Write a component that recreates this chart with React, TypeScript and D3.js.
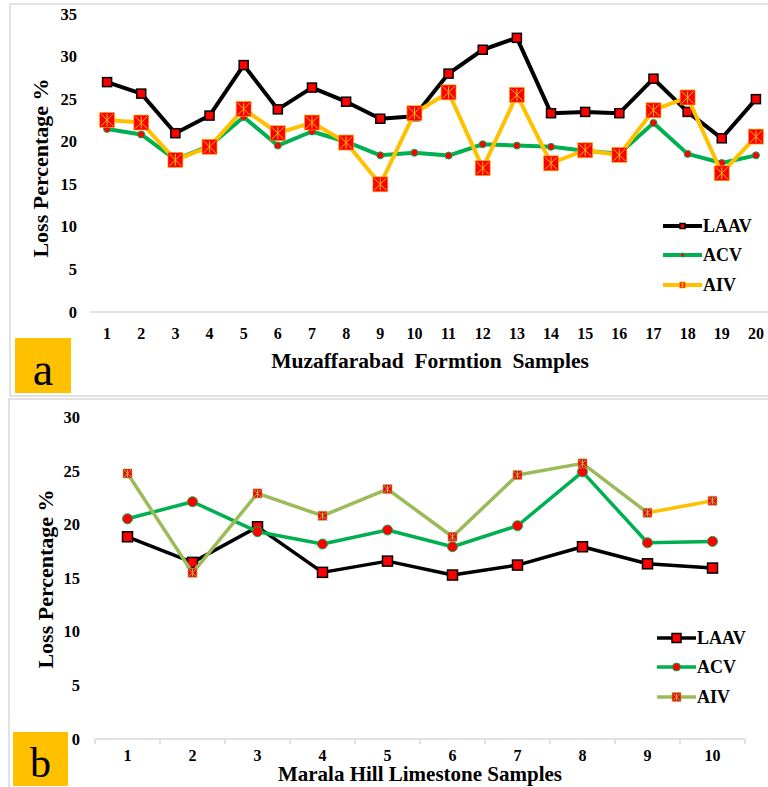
import React from 'react';
import * as d3 from 'd3';

// ---------- data ----------
const samplesA = ['1','2','3','4','5','6','7','8','9','10','11','12','13','14','15','16','17','18','19','20'];
const laavA = [27.0, 25.65, 21.0, 23.07, 29.0, 23.8, 26.36, 24.7, 22.7, 23.0, 28.0, 30.8, 32.2, 23.35, 23.5, 23.35, 27.4, 23.5, 20.4, 25.0];
const acvA = [21.5, 20.85, 17.9, 19.5, 22.9, 19.55, 21.2, 20.0, 18.4, 18.7, 18.37, 19.7, 19.55, 19.4, 18.95, 18.6, 22.2, 18.57, 17.5, 18.4];
const aivA = [22.56, 22.25, 17.86, 19.4, 23.85, 21.0, 22.25, 19.9, 15.0, 23.35, 25.8, 16.9, 25.5, 17.47, 19.0, 18.45, 23.7, 25.2, 16.3, 20.6];
const ticksA = [0, 5, 10, 15, 20, 25, 30, 35];

const samplesB = ['1','2','3','4','5','6','7','8','9','10'];
const laavB = [18.87, 16.48, 19.8, 15.55, 16.6, 15.3, 16.23, 17.94, 16.35, 15.95];
const acvB = [20.55, 22.14, 19.34, 18.19, 19.5, 17.94, 19.9, 24.93, 18.31, 18.44];
const aivB = [24.78, 15.51, 22.92, 20.83, 23.32, 18.87, 24.63, 25.72, 21.11, 22.23];
const ticksB = [0, 5, 10, 15, 20, 25, 30];

const seriesNames = ['LAAV', 'ACV', 'AIV'];

// ---------- style ----------
const FONT = '"Liberation Serif", "Times New Roman", serif';
const BLACK = '#000000';
const GREEN = '#00B050';
const YELLOW = '#FFC000';
const OLIVE = '#9BBB59';
const RED = '#FF0000';
const GRID = '#D9D9D9';

type MarkerKind = 'square' | 'circle' | 'star';

function Marker({ kind, x, y, size, color }: { kind: MarkerKind; x: number; y: number; size: number; color: string }) {
  if (kind === 'circle') {
    return <circle cx={x} cy={y} r={size / 2} fill={RED} stroke={color} strokeWidth={1} />;
  }
  if (kind === 'square') {
    return <rect x={x - size / 2} y={y - size / 2} width={size} height={size} fill={RED} stroke={BLACK} strokeWidth={1.5} />;
  }
  const h = size / 2;
  const k = h * 0.8;
  return (
    <g>
      <rect x={x - h} y={y - h} width={size} height={size} fill={RED} stroke={color} strokeOpacity={0.6} strokeWidth={1} />
      <line x1={x - k} y1={y - k} x2={x + k} y2={y + k} stroke={color} strokeWidth={1} />
      <line x1={x - k} y1={y + k} x2={x + k} y2={y - k} stroke={color} strokeWidth={1} />
      <line x1={x} y1={y - k} x2={x} y2={y + k} stroke={color} strokeWidth={1} />
    </g>
  );
}

interface PanelProps {
  cats: string[];
  series: { values: number[]; color: string; kind: MarkerKind; size: number; legendSize: number; tailColor?: string }[];
  ticks: number[];
  maxY: number;
  frame: [number, number, number, number];
  xRange: [number, number];
  axisEnd: number;
  yRange: [number, number];
  tickLabelX: number;
  xLabelY: number;
  tickMarks: boolean;
  title: string;
  titleX: number;
  titleY: number;
  titleSize: number;
  yTitleX: number;
  yTitleY: number;
  box: [number, number, number, number];
  letter: string;
  letterY: number;
  letterSize: number;
  legendX: [number, number];
  legendY: number[];
  lineWidth: number;
}

function Panel(p: PanelProps) {
  const x = d3.scaleBand<string>().domain(p.cats).range(p.xRange).padding(0);
  const y = d3.scaleLinear().domain([0, p.maxY]).range(p.yRange);
  const cx = (c: string) => (x(c) as number) + x.bandwidth() / 2;
  const line = d3.line<number>().x((_, i) => cx(p.cats[i])).y((d) => y(d));
  const [fx, fy, fw, fh] = p.frame;
  const [bx, by, bw, bh] = p.box;
  return (
    <g>
      <rect x={fx} y={fy} width={fw} height={fh} fill="#fff" stroke={GRID} strokeWidth={1.5} />
      {p.ticks.map((t) => (
        <text key={t} x={p.tickLabelX} y={y(t)} textAnchor="end" dominantBaseline="central" fontFamily={FONT} fontWeight="bold" fontSize={16.5} fill="#000">{t}</text>
      ))}
      <line x1={p.xRange[0]} x2={p.axisEnd} y1={y(0)} y2={y(0)} stroke={GRID} strokeWidth={1.5} />
      {p.tickMarks && p.cats.concat(['__end']).map((c, i) => {
        const xx = p.xRange[0] + i * x.step();
        return <line key={'tm' + i} x1={xx} x2={xx} y1={y(0)} y2={y(0) + 5} stroke={GRID} strokeWidth={1.5} />;
      })}
      {p.cats.map((c) => (
        <text key={'xl' + c} x={cx(c)} y={p.xLabelY} textAnchor="middle" dominantBaseline="central" fontFamily={FONT} fontWeight="bold" fontSize={16} fill="#000">{c}</text>
      ))}
      {p.series.map((s, si) => {
        const starColor = s.kind === 'star' ? (s.tailColor ? s.color : YELLOW) : s.color;
        const n = s.values.length;
        return (
          <g key={'l' + si}>
            {s.tailColor ? (
              <>
                <path d={line(s.values.slice(0, n - 1)) || ''} fill="none" stroke={s.color} strokeWidth={p.lineWidth} strokeLinejoin="round" />
                <path d={d3.line<number>().x((_, i) => cx(p.cats[n - 2 + i])).y((d) => y(d))(s.values.slice(n - 2)) || ''} fill="none" stroke={s.tailColor} strokeWidth={p.lineWidth} strokeLinejoin="round" />
              </>
            ) : (
              <path d={line(s.values) || ''} fill="none" stroke={s.color} strokeWidth={p.lineWidth} strokeLinejoin="round" />
            )}
            {s.values.map((v, i) => <Marker key={i} kind={s.kind} x={cx(p.cats[i])} y={y(v)} size={s.size} color={starColor} />)}
          </g>
        );
      })}
      <text x={p.titleX} y={p.titleY} textAnchor="middle" fontFamily={FONT} fontWeight="bold" fontSize={p.titleSize} fill="#000" style={{ whiteSpace: 'pre' }}>{p.title}</text>
      <text transform={`translate(${p.yTitleX},${p.yTitleY}) rotate(-90)`} textAnchor="middle" dominantBaseline="central" fontFamily={FONT} fontWeight="bold" fontSize={22} fill="#000">Loss Percentage %</text>
      {p.series.map((s, si) => (
        <g key={'lg' + si}>
          <line x1={p.legendX[0]} x2={p.legendX[1]} y1={p.legendY[si]} y2={p.legendY[si]} stroke={s.color} strokeWidth={p.lineWidth} />
          <Marker kind={s.kind} x={(p.legendX[0] + p.legendX[1]) / 2} y={p.legendY[si]} size={s.legendSize} color={s.kind === 'star' ? (s.tailColor ? s.color : YELLOW) : s.color} />
          <text x={p.legendX[1] + 1} y={p.legendY[si]} dominantBaseline="central" fontFamily={FONT} fontWeight="bold" fontSize={18} fill="#000">{seriesNames[si]}</text>
        </g>
      ))}
      <rect x={bx} y={by} width={bw} height={bh} fill={YELLOW} />
      <text x={bx + bw / 2} y={p.letterY} textAnchor="middle" fontFamily={FONT} fontSize={p.letterSize} fill="#000">{p.letter}</text>
    </g>
  );
}

export default function App() {
  return (
    <svg width={768} height={787} style={{ position: 'absolute', left: 0, top: 0, background: '#fff' }}>
      <Panel
        cats={samplesA}
        series={[
          { values: laavA, color: BLACK, kind: 'square', size: 9, legendSize: 5 },
          { values: acvA, color: GREEN, kind: 'circle', size: 7, legendSize: 4 },
          { values: aivA, color: YELLOW, kind: 'star', size: 15, legendSize: 6 },
        ]}
        ticks={ticksA}
        maxY={35}
        frame={[10, 4, 770, 392]}
        xRange={[90, 773]}
        axisEnd={768}
        yRange={[312, 14]}
        tickLabelX={77}
        xLabelY={333}
        tickMarks={false}
        title={'Muzaffarabad  Formtion  Samples'}
        titleX={430}
        titleY={368}
        titleSize={21.5}
        yTitleX={40}
        yTitleY={168}
        box={[15, 338, 56, 55]}
        letter="a"
        letterY={385}
        letterSize={46}
        legendX={[663, 702]}
        legendY={[226, 255, 285]}
        lineWidth={4}
      />
      <Panel
        cats={samplesB}
        series={[
          { values: laavB, color: BLACK, kind: 'square', size: 10, legendSize: 9 },
          { values: acvB, color: GREEN, kind: 'circle', size: 10, legendSize: 8 },
          { values: aivB, color: OLIVE, kind: 'star', size: 9, legendSize: 9, tailColor: YELLOW },
        ]}
        ticks={ticksB}
        maxY={30}
        frame={[9, 399, 770, 392]}
        xRange={[95, 745]}
        axisEnd={745}
        yRange={[739, 417.5]}
        tickLabelX={80}
        xLabelY={755}
        tickMarks={true}
        title={'Marala Hill Limestone Samples'}
        titleX={420}
        titleY={781}
        titleSize={21}
        yTitleX={45}
        yTitleY={579}
        box={[13, 732, 55, 54]}
        letter="b"
        letterY={777}
        letterSize={42}
        legendX={[657, 696]}
        legendY={[638, 667, 697]}
        lineWidth={3.5}
      />
    </svg>
  );
}
